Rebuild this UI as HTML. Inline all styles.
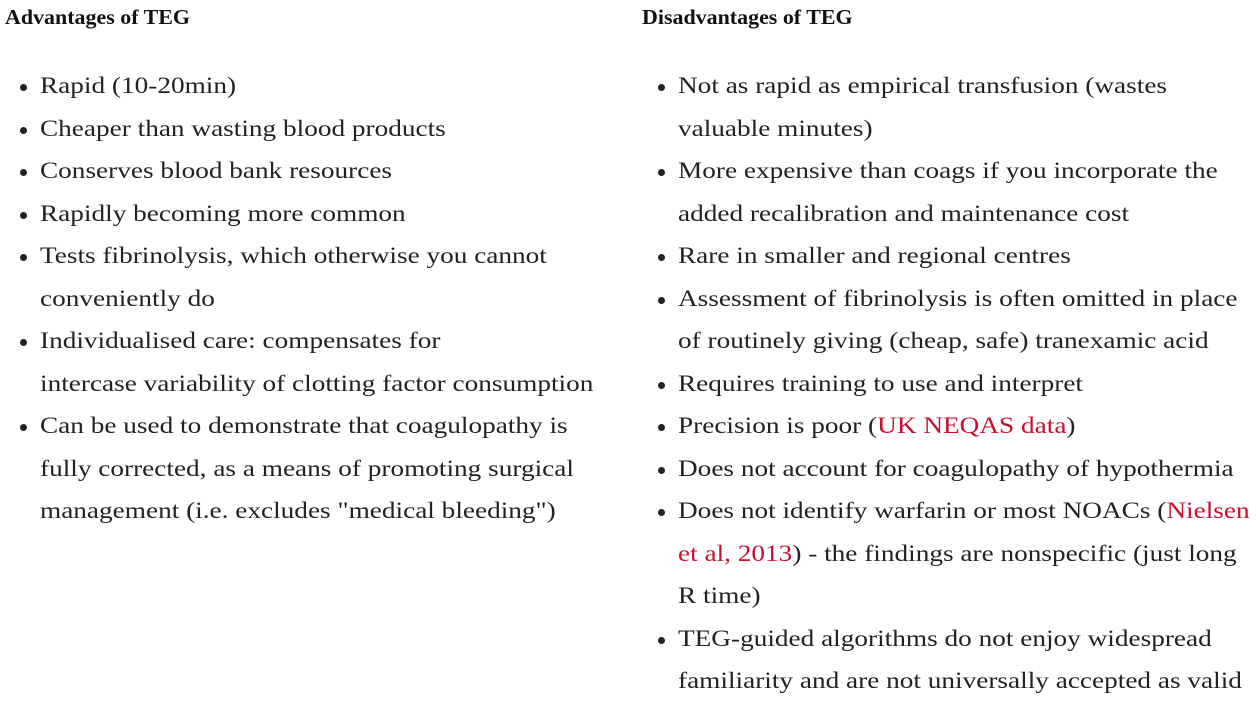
<!DOCTYPE html>
<html><head><meta charset="utf-8"><style>
body{margin:0;width:1256px;height:702px;background:#fff;overflow:hidden;font-family:"Liberation Serif",serif;color:#222;position:relative}
.h{position:absolute;top:5px;font-weight:bold;font-size:21px;color:#111;transform:scaleX(1.045);transform-origin:0 0}
.l{position:absolute;font-size:23.5px;white-space:nowrap;line-height:30px;transform:scaleX(1.16);transform-origin:0 0}
.b{position:absolute;width:7px;height:7px;border-radius:50%;background:#222}
a{color:#c8102e;text-decoration:none}
</style></head><body>
<div class="h" style="left:5px">Advantages of TEG</div>
<div class="h" style="left:642px">Disadvantages of TEG</div>
<div id="c"></div>
<script>
const left=[[1,'Rapid (10-20min)'],[1,'Cheaper than wasting blood products'],[1,'Conserves blood bank resources'],[1,'Rapidly becoming more common'],[1,'Tests fibrinolysis, which otherwise you cannot'],[0,'conveniently do'],[1,'Individualised care: compensates for'],[0,'intercase variability of clotting factor consumption'],[1,'Can be used to demonstrate that coagulopathy is'],[0,'fully corrected, as a means of promoting surgical'],[0,'management (i.e. excludes "medical bleeding")']];
const right=[[1,'Not as rapid as empirical transfusion (wastes'],[0,'valuable minutes)'],[1,'More expensive than coags if you incorporate the'],[0,'added recalibration and maintenance cost'],[1,'Rare in smaller and regional centres'],[1,'Assessment of fibrinolysis is often omitted in place'],[0,'of routinely giving (cheap, safe) tranexamic acid'],[1,'Requires training to use and interpret'],[1,'Precision is poor (<a href="#">UK NEQAS data</a>)'],[1,'Does not account for coagulopathy of hypothermia'],[1,'Does not identify warfarin or most NOACs (<a href="#">Nielsen</a>'],[0,'<a href="#">et al, 2013</a>) - the findings are nonspecific (just long'],[0,'R time)'],[1,'TEG-guided algorithms do not enjoy widespread'],[0,'familiarity and are not universally accepted as valid']];
const c=document.getElementById('c');
function draw(arr,bx,tx,name){arr.forEach((r,i)=>{const y=87+i*42.5;
if(r[0]){const d=document.createElement('div');d.className='b';d.style.left=(bx-3)+'px';d.style.top=(y-3)+'px';


c.appendChild(d);}
const t=document.createElement('div');t.className='l';t.style.left=tx+'px';t.style.top=(y-16)+'px';t.innerHTML=r[1];


c.appendChild(t);});}
draw(left,23,40,'advantage');
draw(right,661,678,'disadvantage');
</script>
</body></html>
